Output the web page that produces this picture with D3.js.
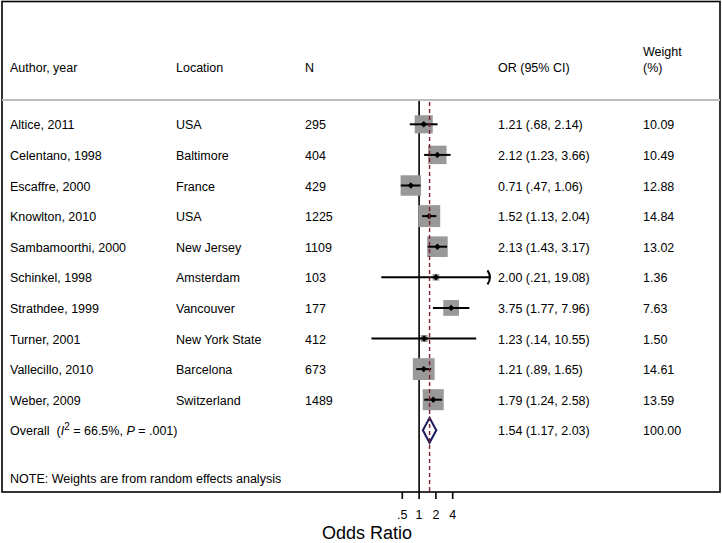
<!DOCTYPE html>
<html>
<head>
<meta charset="utf-8">
<script src="https://cdn.jsdelivr.net/npm/d3@7"></script>
<style>
  body { margin: 0; background: #fff; }
  svg text { font-family: "Liberation Sans", Arial, Helvetica, sans-serif; fill: #000; }
</style>
</head>
<body>
<svg id="forest" width="722" height="543"></svg>
<script>
// study rows
const authors = ['Altice, 2011', 'Celentano, 1998', 'Escaffre, 2000', 'Knowlton, 2010', 'Sambamoorthi, 2000',
                 'Schinkel, 1998', 'Strathdee, 1999', 'Turner, 2001', 'Vallecillo, 2010', 'Weber, 2009'];
const locations = ['USA', 'Baltimore', 'France', 'USA', 'New Jersey', 'Amsterdam', 'Vancouver',
                   'New York State', 'Barcelona', 'Switzerland'];
const sizes = [295, 404, 429, 1225, 1109, 103, 177, 412, 673, 1489];
const or = [1.21, 2.12, 0.71, 1.52, 2.13, 2.00, 3.75, 1.23, 1.21, 1.79];
const lower = [0.68, 1.23, 0.47, 1.13, 1.43, 0.21, 1.77, 0.14, 0.89, 1.24];
const upper = [2.14, 3.66, 1.06, 2.04, 3.17, 19.08, 7.96, 10.55, 1.65, 2.58];
const weights = [10.09, 10.49, 12.88, 14.84, 13.02, 1.36, 7.63, 1.50, 14.61, 13.59];

const overall = {or: 1.54, lower: 1.17, upper: 2.03, weight: 100.00, i2: '66.5%', p: '.001'};

const tickValues = [0.5, 1, 2, 4];
const tickLabels = ['.5', '1', '2', '4'];
const clipMax = 19;  // CI beyond this gets an arrow

var svg = d3.select('#forest');

var x = d3.scaleLog().domain([0.5, 4]).range([402.3, 452.7]);
var y = d3.scaleLinear().domain([0, 1]).range([124.3, 154.9]);

var fmtCI = v => v.toFixed(2).replace(/^0\./, '.');
var orText = (o, l, u) => o.toFixed(2) + ' (' + fmtCI(l) + ', ' + fmtCI(u) + ')';

var plotTop = 100, plotBottom = 492;
var fs = 12.5;

// outer frame
svg.append('rect')
    .attr('x', 2).attr('y', 1.5)
    .attr('width', 718).attr('height', plotBottom - 1.5)
    .attr('fill', 'none').attr('stroke', '#000').attr('stroke-width', 1.6);

// header separator
svg.append('line')
    .attr('x1', 2).attr('x2', 720)
    .attr('y1', plotTop).attr('y2', plotTop)
    .attr('stroke', '#bdbdbd').attr('stroke-width', 2);

// header
var cols = [10, 176, 305, 498, 643];
var header = svg.append('g').attr('font-size', fs);
header.append('text').attr('x', cols[0]).attr('y', 72).text('Author, year');
header.append('text').attr('x', cols[1]).attr('y', 72).text('Location');
header.append('text').attr('x', cols[2]).attr('y', 72).text('N');
header.append('text').attr('x', cols[3]).attr('y', 72).text('OR (95% CI)');
header.append('text').attr('x', cols[4]).attr('y', 56).text('Weight');
header.append('text').attr('x', cols[4]).attr('y', 72).text('(%)');

// null line
svg.append('line')
    .attr('x1', x(1)).attr('x2', x(1))
    .attr('y1', plotTop + 1).attr('y2', plotBottom)
    .attr('stroke', '#000').attr('stroke-width', 1.6);

var rows = authors.map((a, i) => ({
    author: a, loc: locations[i], n: sizes[i],
    or: or[i], lo: lower[i], hi: upper[i], w: weights[i]
}));

// weight boxes
svg.selectAll('rect.box')
    .data(rows)
    .enter()
        .append('rect')
            .attr('class', 'box')
            .attr('x', d => x(d.or) - 2.85 * Math.sqrt(d.w))
            .attr('y', (d, i) => y(i) - 2.85 * Math.sqrt(d.w))
            .attr('width', d => 5.7 * Math.sqrt(d.w))
            .attr('height', d => 5.7 * Math.sqrt(d.w))
            .attr('fill', '#999999');

// confidence intervals
svg.selectAll('line.ci')
    .data(rows)
    .enter()
        .append('line')
            .attr('class', 'ci')
            .attr('x1', d => x(d.lo))
            .attr('x2', d => x(Math.min(d.hi, clipMax)))
            .attr('y1', (d, i) => y(i))
            .attr('y2', (d, i) => y(i))
            .attr('stroke', '#000')
            .attr('stroke-width', 2);

// arrow for clipped intervals
svg.selectAll('path.arrow')
    .data(rows.map((d, i) => ({d, i})).filter(e => e.d.hi > clipMax))
    .enter()
        .append('path')
            .attr('class', 'arrow')
            .attr('d', e => {
                var ax = x(clipMax), ay = y(e.i);
                return 'M' + (ax - 3) + ',' + (ay - 7) + ' Q' + (ax + 2) + ',' + ay + ' ' + (ax - 3) + ',' + (ay + 7);
            })
            .attr('fill', 'none')
            .attr('stroke', '#000')
            .attr('stroke-width', 2);

// point estimates
svg.selectAll('path.pt')
    .data(rows)
    .enter()
        .append('path')
            .attr('class', 'pt')
            .attr('transform', (d, i) => 'translate(' + x(d.or) + ',' + y(i) + ')')
            .attr('d', 'M0,-3.2 L3.2,0 L0,3.2 L-3.2,0 Z')
            .attr('fill', '#000');

// overall diamond
var oy = y(10);
svg.append('path')
    .attr('d', 'M' + x(overall.lower) + ',' + oy +
               ' L' + x(overall.or) + ',' + (oy - 12.5) +
               ' L' + x(overall.upper) + ',' + oy +
               ' L' + x(overall.or) + ',' + (oy + 12.5) + ' Z')
    .attr('fill', '#fff')
    .attr('stroke', '#1b1a5c')
    .attr('stroke-width', 2);

// overall effect line
svg.append('line')
    .attr('x1', x(overall.or)).attr('x2', x(overall.or))
    .attr('y1', plotTop + 2).attr('y2', plotBottom)
    .attr('stroke', '#7d1f2d').attr('stroke-width', 1.4)
    .attr('stroke-dasharray', '4,3');

// row texts
var body = svg.append('g').attr('font-size', fs);
var rowText = body.selectAll('g.row')
    .data(rows)
    .enter()
        .append('g')
            .attr('transform', (d, i) => 'translate(0,' + (y(i) + 5) + ')');
rowText.append('text').attr('x', cols[0]).text(d => d.author);
rowText.append('text').attr('x', cols[1]).text(d => d.loc);
rowText.append('text').attr('x', cols[2]).text(d => d.n);
rowText.append('text').attr('x', cols[3]).text(d => orText(d.or, d.lo, d.hi));
rowText.append('text').attr('x', cols[4]).text(d => d.w.toFixed(2));

// overall row text
var ot = body.append('text').attr('x', cols[0]).attr('y', oy + 5).attr('xml:space', 'preserve');
ot.append('tspan').text('Overall  (');
ot.append('tspan').attr('font-style', 'italic').text('I');
ot.append('tspan').attr('font-size', 10).attr('dy', -5).text('2');
ot.append('tspan').attr('dy', 5).text(' = ' + overall.i2 + ', ');
ot.append('tspan').attr('font-style', 'italic').text('P');
ot.append('tspan').text(' = ' + overall.p + ')');
body.append('text').attr('x', cols[3]).attr('y', oy + 5).text(orText(overall.or, overall.lower, overall.upper));
body.append('text').attr('x', cols[4]).attr('y', oy + 5).text(overall.weight.toFixed(2));

body.append('text').attr('x', cols[0]).attr('y', 482.5).text('NOTE: Weights are from random effects analysis');

// x axis
var axis = svg.append('g').attr('transform', 'translate(0,' + plotBottom + ')');
axis.selectAll('line.tick')
    .data(tickValues)
    .enter()
        .append('line')
            .attr('x1', d => x(d)).attr('x2', d => x(d))
            .attr('y1', 0).attr('y2', 7)
            .attr('stroke', '#000').attr('stroke-width', 1.6);
axis.selectAll('text.tick')
    .data(tickValues)
    .enter()
        .append('text')
            .attr('x', d => x(d))
            .attr('y', 27)
            .attr('text-anchor', 'middle')
            .attr('font-size', 12.5)
            .text((d, i) => tickLabels[i]);

svg.append('text')
    .attr('x', 367).attr('y', 539)
    .attr('text-anchor', 'middle')
    .attr('font-size', 18)
    .text('Odds Ratio');
</script>
</body>
</html>
